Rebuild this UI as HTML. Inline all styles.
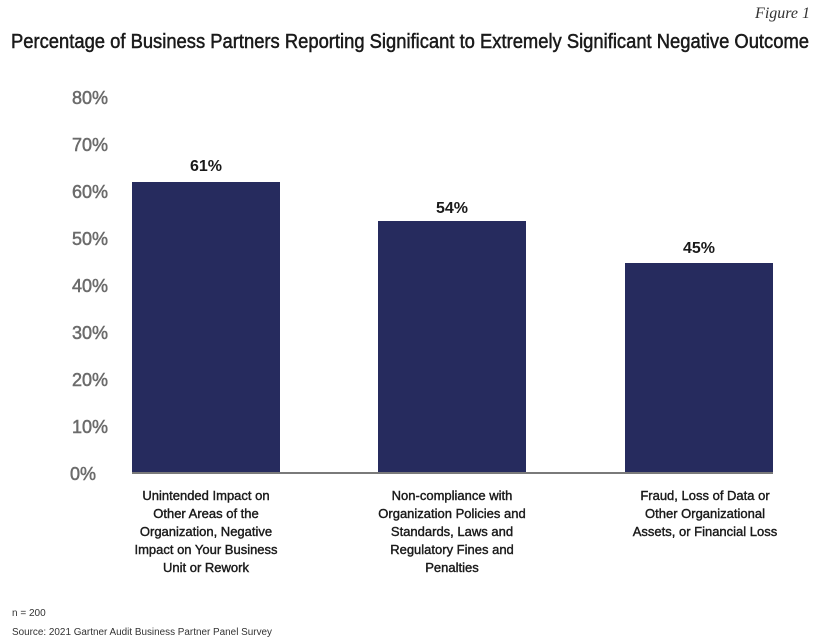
<!DOCTYPE html>
<html><head><meta charset="utf-8"><style>
html,body{margin:0;padding:0;background:#fff;}
svg{display:block;}
</style></head><body>
<svg width="820" height="642" viewBox="0 0 820 642" xmlns="http://www.w3.org/2000/svg">
<text x="810" y="18" text-anchor="end" font-family="Liberation Serif, serif" font-style="italic" font-size="16" fill="#333">Figure 1</text>
<text x="11" y="48" font-family="Liberation Sans, sans-serif" font-size="20" fill="#1a1a1a" stroke="#1a1a1a" stroke-width="0.5" textLength="798" lengthAdjust="spacingAndGlyphs">Percentage of Business Partners Reporting Significant to Extremely Significant Negative Outcome</text>
<g font-family="Liberation Sans, sans-serif" font-size="18" fill="#6b6b6b" stroke="#6b6b6b" stroke-width="0.5" text-anchor="end">
<text x="108" y="104">80%</text>
<text x="108" y="151">70%</text>
<text x="108" y="198">60%</text>
<text x="108" y="245">50%</text>
<text x="108" y="292">40%</text>
<text x="108" y="339">30%</text>
<text x="108" y="386">20%</text>
<text x="108" y="433">10%</text>
<text x="96" y="480">0%</text>
</g>
<rect x="132" y="182" width="148" height="291" fill="#262b5e"/>
<rect x="378" y="221" width="148" height="252" fill="#262b5e"/>
<rect x="625" y="263" width="148" height="210" fill="#262b5e"/>
<rect x="132" y="472" width="641" height="2" fill="#7a7a7a"/>
<g font-family="Liberation Sans, sans-serif" font-size="16" font-weight="bold" fill="#1a1a1a" text-anchor="middle">
<text x="206" y="171">61%</text>
<text x="452" y="213">54%</text>
<text x="699" y="253">45%</text>
</g>
<g font-family="Liberation Sans, sans-serif" font-size="13" fill="#1a1a1a" stroke="#1a1a1a" stroke-width="0.4" text-anchor="middle">
<text x="206" y="500">Unintended Impact on</text>
<text x="206" y="518">Other Areas of the</text>
<text x="206" y="536">Organization, Negative</text>
<text x="206" y="554">Impact on Your Business</text>
<text x="206" y="572">Unit or Rework</text>
<text x="452" y="500">Non-compliance with</text>
<text x="452" y="518">Organization Policies and</text>
<text x="452" y="536">Standards, Laws and</text>
<text x="452" y="554">Regulatory Fines and</text>
<text x="452" y="572">Penalties</text>
<text x="705" y="500">Fraud, Loss of Data or</text>
<text x="705" y="518">Other Organizational</text>
<text x="705" y="536">Assets, or Financial Loss</text>
</g>
<g font-family="Liberation Sans, sans-serif" font-size="10" fill="#333">
<text x="12" y="616">n = 200</text>
<text x="12" y="635" textLength="260" lengthAdjust="spacingAndGlyphs">Source: 2021 Gartner Audit Business Partner Panel Survey</text>
</g>
</svg>
</body></html>
